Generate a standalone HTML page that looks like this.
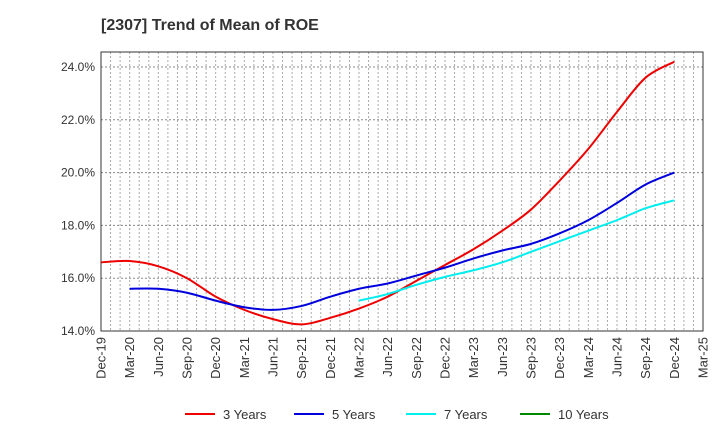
<!DOCTYPE html>
<html><head><meta charset="utf-8"><style>
body{margin:0;background:#fff;font-family:"Liberation Sans",Arial,sans-serif}
svg text{font-family:"Liberation Sans",Arial,sans-serif}
</style></head><body>
<svg width="720" height="440" viewBox="0 0 720 440">
<text x="101" y="30" font-size="16" font-weight="bold" fill="#333">[2307]  Trend of Mean of ROE</text>
<g id="grid"></g>
<g id="axes"></g>
<g id="series"></g>
<g id="legend"></g>
</svg>
<script>
const xLabels=["Dec-19","Mar-20","Jun-20","Sep-20","Dec-20","Mar-21","Jun-21","Sep-21","Dec-21","Mar-22","Jun-22","Sep-22","Dec-22","Mar-23","Jun-23","Sep-23","Dec-23","Mar-24","Jun-24","Sep-24","Dec-24","Mar-25"];
const yTicks=[14,16,18,20,22,24];
const s3=[16.6,16.65,16.45,16.0,15.3,14.8,14.45,14.25,14.5,14.85,15.3,15.9,16.5,17.1,17.8,18.6,19.7,20.9,22.3,23.6,24.2];
const s5=[null,15.6,15.6,15.45,15.15,14.9,14.8,14.95,15.3,15.6,15.8,16.1,16.4,16.75,17.05,17.3,17.7,18.2,18.85,19.55,20.0];
const s7=[null,null,null,null,null,null,null,null,null,15.15,15.4,15.75,16.05,16.3,16.6,17.0,17.4,17.8,18.2,18.65,18.95];
const s10=[];
const L=101,R=703,T=52,B=331;
const X=i=>L+(R-L)*i/21;
const Y=v=>B-(v-14)*(331-67)/10;
const NS="http://www.w3.org/2000/svg";
function mk(tag,attrs,parent){const e=document.createElementNS(NS,tag);for(const k in attrs)e.setAttribute(k,attrs[k]);document.getElementById(parent).appendChild(e);return e;}
for(let m=1;m<63;m++){const x=L+(R-L)*m/63;
const g=mk('line',{x1:x,x2:x,y1:T,y2:B,stroke:'#aaa','stroke-dasharray':'2,2','stroke-width':1},'grid');

}
yTicks.forEach(v=>{const y=Y(v);
const g=mk('line',{x1:L,x2:R,y1:y,y2:y,stroke:'#888','stroke-dasharray':'2,2'},'grid');


const t=mk('text',{x:L-6,y:y+4,'text-anchor':'end','font-size':12,fill:'#333'},'axes');t.textContent=v.toFixed(1)+'%';

});
const fr=mk('rect',{x:L,y:T,width:R-L,height:B-T,fill:'none',stroke:'#333','stroke-width':1},'axes');


xLabels.forEach((s,i)=>{const x=X(i);const t=mk('text',{x:0,y:0,'text-anchor':'end','font-size':13,fill:'#333',transform:`translate(${x+4.5},${B+6}) rotate(-90)`},'axes');t.textContent=s;

});
function path(arr){let d='';let pts=[];arr.forEach((v,i)=>{if(v!=null)pts.push([X(i),Y(v)]);});
if(!pts.length)return '';d='M'+pts[0][0]+','+pts[0][1];
for(let i=0;i<pts.length-1;i++){const p0=pts[i-1]||pts[i],p1=pts[i],p2=pts[i+1],p3=pts[i+2]||p2;
d+=` C${p1[0]+(p2[0]-p0[0])/6},${p1[1]+(p2[1]-p0[1])/6} ${p2[0]-(p3[0]-p1[0])/6},${p2[1]-(p3[1]-p1[1])/6} ${p2[0]},${p2[1]}`;}return d;}
[[s3,'#ee0000','line-3-years'],[s5,'#0000dd','line-5-years'],[s7,'#00eeee','line-7-years'],[s10,'#008800','line-10-years']].forEach(([a,c,n])=>{const d=path(a);if(!d)return;
const p=mk('path',{d:d,fill:'none',stroke:c,'stroke-width':2},'series');

});
[['3 Years','#ee0000',185],['5 Years','#0000dd',294],['7 Years','#00eeee',406],['10 Years','#008800',520]].forEach(([s,c,x])=>{
const l=mk('line',{x1:x,x2:x+30,y1:414,y2:414,stroke:c,'stroke-width':2},'legend');


const t=mk('text',{x:x+38,y:419,'font-size':13,fill:'#333'},'legend');t.textContent=s;

});
</script>
</body></html>
